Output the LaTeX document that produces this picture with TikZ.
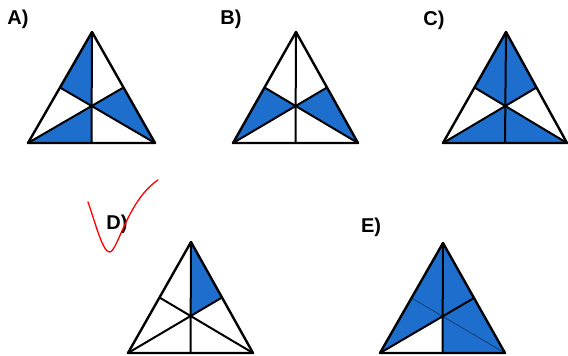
\documentclass[tikz,border=0pt]{standalone}
\usepackage{fontspec}
\setmainfont{Liberation Sans}
\usetikzlibrary{calc}
\definecolor{shade}{RGB}{30,110,205}
\tikzset{
  outline/.style={line width=2.4pt, line join=round},
  cevian/.style={line width=2pt},
  region/.style={fill=shade},
  lbl/.style={font=\bfseries\fontsize{20}{22}\selectfont, inner sep=0pt},
}
\newcommand{\mktri}[4]{%
  \coordinate (#1T) at (#2);
  \coordinate (#1L) at (#3);
  \coordinate (#1R) at (#4);
  \coordinate (#1a) at ($(#1T)!.5!(#1L)$);
  \coordinate (#1b) at ($(#1T)!.5!(#1R)$);
  \coordinate (#1c) at ($(#1L)!.5!(#1R)$);
  \coordinate (#1G) at ($(#1T)!2/3!(#1c)$);
}
\newcommand{\rone}[1]{\fill[region] (#1T)--(#1a)--(#1G)--cycle;}
\newcommand{\rtwo}[1]{\fill[region] (#1T)--(#1b)--(#1G)--cycle;}
\newcommand{\rthree}[1]{\fill[region] (#1a)--(#1L)--(#1G)--cycle;}
\newcommand{\rfour}[1]{\fill[region] (#1L)--(#1c)--(#1G)--cycle;}
\newcommand{\rfive}[1]{\fill[region] (#1c)--(#1R)--(#1G)--cycle;}
\newcommand{\rsix}[1]{\fill[region] (#1b)--(#1R)--(#1G)--cycle;}
\newcommand{\lines}[1]{%
  \draw[cevian] (#1T)--(#1c);
  \draw[cevian] (#1L)--(#1b);
  \draw[cevian] (#1R)--(#1a);
  \draw[outline] (#1T)--(#1L)--(#1R)--cycle;
}
\begin{document}
\begin{tikzpicture}[x=1pt,y=-1pt]
\useasboundingbox (0,0) rectangle (568,356);
\fill[white] (0,0) rectangle (568,356);
% A
\mktri{A}{92,32}{28,143}{155,143}
\rone{A}\rfour{A}\rsix{A}
\lines{A}
\node[lbl] (labA) at (18,19) {A)};
% B
\mktri{B}{296,32}{233,143}{358,143}
\rthree{B}\rsix{B}
\lines{B}
\node[lbl] (labB) at (231,19) {B)};
% C
\mktri{C}{506,32}{443,143}{567,143}
\rone{C}\rtwo{C}\rfour{C}\rfive{C}
\lines{C}
\node[lbl] (labC) at (434,20) {C)};
% D
\mktri{D}{191,242}{128,353}{253,353}
\rtwo{D}
\lines{D}
\node[lbl] (labD) at (117,224) {D)};
% E
\mktri{E}{443,243}{380,353}{505,353}
\rone{E}\rtwo{E}\rthree{E}\rfive{E}\rsix{E}
\draw[line width=0.8pt, shade!55!black] (ER)--(Ea);
\draw[cevian] (ET)--(Ec);
\draw[cevian] (EL)--(Eb);
\draw[outline] (ET)--(EL)--(ER)--cycle;
\node[lbl] (labE) at (371,227) {E)};
% red check mark
\draw[red, line width=1.3pt, line cap=round]
  (88,202) .. controls (96,225) and (103,253) .. (110,252)
  .. controls (118,250) and (128,200) .. (158,180);
\end{tikzpicture}
\end{document}
